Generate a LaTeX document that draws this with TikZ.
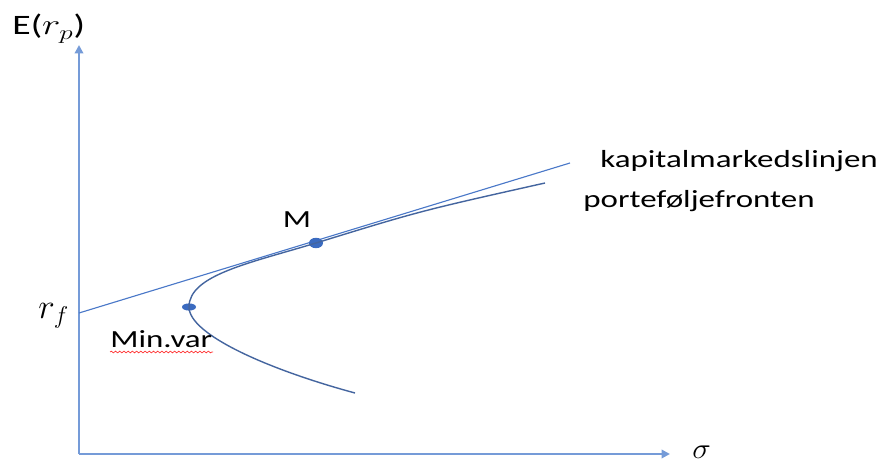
\documentclass[tikz,border=0pt]{standalone}
\usepackage{fontspec}
\setmainfont{Carlito}
\usetikzlibrary{arrows.meta,shapes.geometric,decorations.pathmorphing}

\definecolor{akse}{HTML}{759BD8}
\definecolor{linje}{HTML}{4A78C8}
\definecolor{front}{HTML}{44659F}
\definecolor{prikk}{HTML}{3B6BC0}

\begin{document}
\begin{tikzpicture}[x=0.025cm, y=-0.025cm, >={Triangle[length=6pt,width=6pt]},
  tekst/.style={font=\fontsize{17.5}{20}\selectfont, xscale=1.34, transform shape, inner sep=0pt},
  punkt/.style={ellipse, fill=prikk, inner sep=0pt}]
  \useasboundingbox (0,0) rectangle (885,464);

  % akser
  \coordinate (O) at (79,454);
  \coordinate (ytopp) at (79,45);
  \coordinate (xslutt) at (670,454);
  \draw[->, akse, line width=1.5pt] (O) -- (ytopp);
  \draw[->, akse, line width=1.5pt] (O) -- (xslutt);
  \node[tekst, font=\fontsize{20}{22}\selectfont, anchor=base west] (ey) at (12,35) {E($r_p$)};
  \node[tekst, font=\fontsize{22}{24}\selectfont, xscale=0.8, anchor=base west] (sigma) at (692,458) {$\sigma$};
  \node[tekst, font=\fontsize{23}{25}\selectfont, xscale=0.75, anchor=base west] (rf) at (38,318) {$r_f$};

  % kapitalmarkedslinjen
  \coordinate (rfpkt) at (79,313);
  \coordinate (kmlslutt) at (570,163);
  \draw[linje, line width=0.8pt] (rfpkt) -- (kmlslutt);

  % porteføljefronten
  \node[punkt, minimum width=0.35cm, minimum height=0.26cm] (M) at (316,243) {};
  \node[punkt, minimum width=0.35cm, minimum height=0.18cm] (minvar) at (189,307) {};
  \coordinate (nedre) at (355,393);
  \coordinate (frontslutt) at (545,183);
  \draw[front, line width=1pt] (nedre) .. controls (270,370) and (189,335) .. (minvar.center)
    .. controls (189,275) and (250,263) .. (M.center) .. controls (420,211) .. (frontslutt);

  \node[tekst, anchor=base] (Mtekst) at (297,228) {M};
  \node[tekst, anchor=base west] (mvtekst) at (110,347) {Min.var};
  \draw[red!80, line width=0.5pt, decorate, decoration={snake, amplitude=0.6pt, segment length=3pt}]
    (mvtekst.base west) ++(0,5) coordinate (bolge) -- ++(103,0);
  \node[tekst, anchor=base west] (kml) at (600,168) {kapitalmarkedslinjen};
  \node[tekst, anchor=base west] (pf) at (583,208) {porteføljefronten};
\end{tikzpicture}
\end{document}
